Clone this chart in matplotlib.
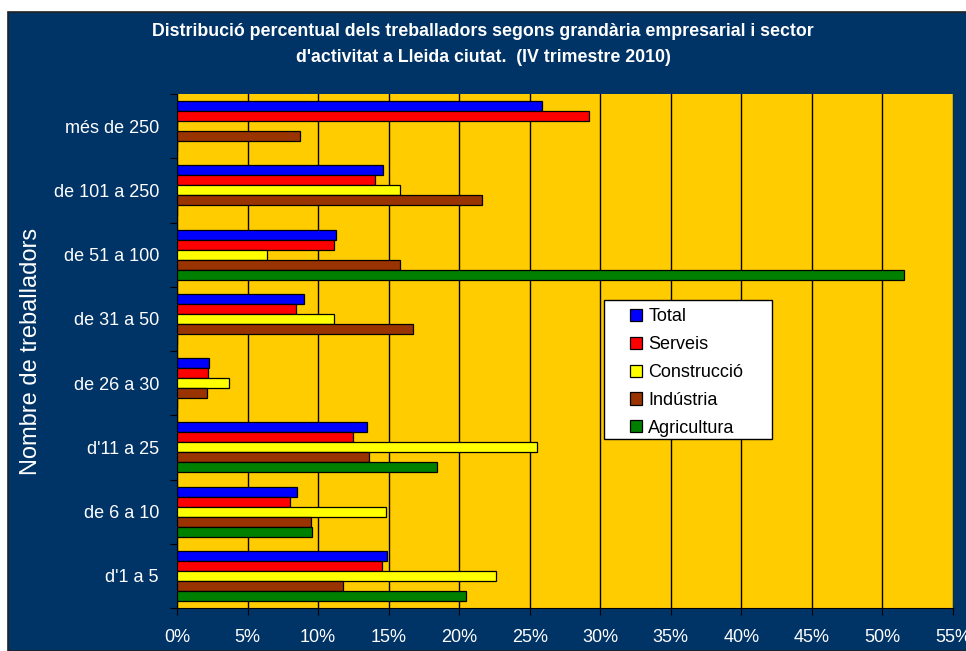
import matplotlib.pyplot as plt
import matplotlib.patches as patches
import numpy as np
from matplotlib.ticker import FuncFormatter

plt.rcParams['font.family'] = ['Liberation Sans', 'DejaVu Sans']

categories = ["d'1 a 5", "de 6 a 10", "d'11 a 25", "de 26 a 30",
              "de 31 a 50", "de 51 a 100", "de 101 a 250", "més de 250"]
series = ["Total", "Serveis", "Construcció", "Indústria", "Agricultura"]
total = [14.9, 8.5, 13.5, 2.3, 9.0, 11.3, 14.6, 25.9]
serveis = [14.5, 8.0, 12.5, 2.2, 8.4, 11.1, 14.0, 29.2]
construccio = [22.6, 14.8, 25.5, 3.7, 11.15, 6.4, 15.8, 0]
industria = [11.8, 9.5, 13.6, 2.1, 16.7, 15.8, 21.6, 8.7]
agricultura = [20.5, 9.6, 18.4, 0, 0, 51.5, 0, 0]
colors = ["#0000FF", "#FF0000", "#FFFF00", "#993300", "#008000"]

values = [total, serveis, construccio, industria, agricultura]

fig = plt.figure(figsize=(9.66, 6.51), dpi=100, facecolor="white")
bg = patches.Rectangle((8 / 966, 0), 1, (651 - 12) / 651, transform=fig.transFigure,
                       facecolor="#003366", edgecolor="#222222", linewidth=1.2, zorder=-10)
fig.patches.append(bg)

ax = fig.add_axes([177 / 966, (651 - 608) / 651, 776 / 966, 514 / 651])
ax.set_facecolor("#FFCC00")

y = np.arange(len(categories))
h = 0.156
for i, (name, vals, c) in enumerate(zip(series, values, colors)):
    ax.barh(y + (2 - i) * h, vals, height=h, color=c, edgecolor="black",
            linewidth=0.9, label=name, zorder=3)

ax.set_xlim(0, 55)
ax.set_ylim(-0.5, len(categories) - 0.5)
ax.set_xticks(np.arange(0, 56, 5))
ax.xaxis.set_major_formatter(FuncFormatter(lambda v, p: f"{int(v)}%"))
ax.grid(axis="x", color="black", linewidth=1, zorder=1)
ax.set_axisbelow(True)

ax.set_yticks(np.arange(-0.5, len(categories), 1))
ax.set_yticklabels([])
ax.set_yticks(y, minor=True)
ax.set_yticklabels(categories, minor=True)
ax.tick_params(axis="y", which="minor", length=0, pad=13, labelsize=13, colors="white")
ax.tick_params(axis="y", which="major", length=5, color="black")
ax.tick_params(axis="x", length=5, color="black", pad=10, labelsize=13, labelcolor="white")

for s in ["top", "right"]:
    ax.spines[s].set_visible(False)
ax.spines["left"].set_color("black")
ax.spines["bottom"].set_color("black")

ax.set_ylabel("Nombre de treballadors", fontsize=17, color="white")
ax.yaxis.set_label_coords(-0.174, 0.5)

# legend box drawn separately so it can have the wider padding of the original
box = patches.Rectangle((0.5503, 0.3288), 0.2165, 0.2704, transform=ax.transAxes,
                        facecolor="white", edgecolor="black", linewidth=1, zorder=6)
ax.add_patch(box)
leg = ax.legend(loc="upper left", bbox_to_anchor=(0.5838, 0.583), borderaxespad=0,
                fontsize=13, frameon=False,
                handlelength=0.67, handleheight=0.67, handletextpad=0.35,
                labelspacing=0.6, borderpad=0)
leg.set_zorder(7)

fig.text(0.5, (651 - 32) / 651, "Distribució percentual dels treballadors segons grandària empresarial i sector",
         ha="center", va="center", color="white", fontsize=12.8, fontweight="bold")
fig.text(0.5, (651 - 58) / 651, "d'activitat a Lleida ciutat.  (IV trimestre 2010)",
         ha="center", va="center", color="white", fontsize=12.8, fontweight="bold")

fig.savefig("out.png", dpi=100, facecolor=fig.get_facecolor())
